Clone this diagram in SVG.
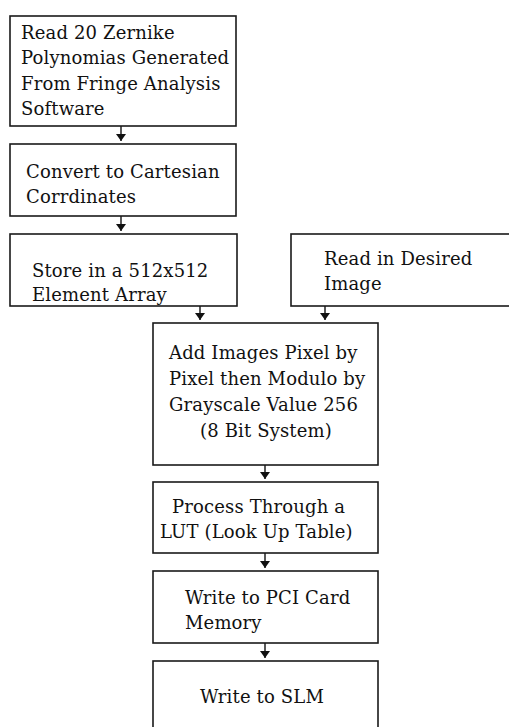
<svg xmlns="http://www.w3.org/2000/svg" width="509" height="727" viewBox="0 0 509 727">
  <style>
    .box { fill: #ffffff; stroke: #1a1a1a; stroke-width: 1.6; }
    .lbl { font-family: "DejaVu Serif", "Liberation Serif", serif; font-size: 18px; letter-spacing: 0.15px; fill: #111111; }
    .conn { stroke: #111111; stroke-width: 1.4; fill: none; marker-end: url(#ah); }
  </style>
  <defs>
    <marker id="ah" markerUnits="userSpaceOnUse" markerWidth="12" markerHeight="12" viewBox="0 -6 7 12" refX="7" refY="0" orient="auto">
      <path d="M0,-5 L7,0 L0,5 z" fill="#111111"/>
    </marker>
  </defs>
  <rect width="509" height="727" fill="#ffffff"/>

  <g id="connectors">
    <line class="conn" x1="121" y1="126" x2="121" y2="141"/>
    <line class="conn" x1="121" y1="216" x2="121" y2="231"/>
    <line class="conn" x1="200" y1="306" x2="200" y2="320"/>
    <line class="conn" x1="325" y1="306" x2="325" y2="320"/>
    <line class="conn" x1="265" y1="465" x2="265" y2="479"/>
    <line class="conn" x1="265" y1="553" x2="265" y2="568"/>
    <line class="conn" x1="265" y1="643" x2="265" y2="658"/>
  </g>

  <g id="node-read-zernike">
    <rect class="box" x="10" y="16" width="226" height="110"/>
    <text class="lbl" x="21" y="38.5">Read 20 Zernike</text>
    <text class="lbl" x="21" y="64">Polynomias Generated</text>
    <text class="lbl" x="21" y="89.5">From Fringe Analysis</text>
    <text class="lbl" x="21" y="115">Software</text>
  </g>

  <g id="node-convert">
    <rect class="box" x="10" y="144" width="226" height="72"/>
    <text class="lbl" x="26" y="178">Convert to Cartesian</text>
    <text class="lbl" x="26" y="203">Corrdinates</text>
  </g>

  <g id="node-store">
    <rect class="box" x="10" y="234" width="227" height="72"/>
    <text class="lbl" x="32" y="277">Store in a 512x512</text>
    <text class="lbl" x="32" y="301">Element Array</text>
  </g>

  <g id="node-read-image">
    <rect class="box" x="291" y="234" width="240" height="72"/>
    <text class="lbl" x="324" y="265">Read in Desired</text>
    <text class="lbl" x="324" y="290">Image</text>
  </g>

  <g id="node-add">
    <rect class="box" x="153" y="323" width="225" height="142"/>
    <text class="lbl" x="169" y="359">Add Images Pixel by</text>
    <text class="lbl" x="169" y="385">Pixel then Modulo by</text>
    <text class="lbl" x="169" y="411">Grayscale Value 256</text>
    <text class="lbl" x="200" y="437">(8 Bit System)</text>
  </g>

  <g id="node-lut">
    <rect class="box" x="153" y="482" width="225" height="71"/>
    <text class="lbl" x="172" y="513">Process Through a</text>
    <text class="lbl" x="160" y="538">LUT (Look Up Table)</text>
  </g>

  <g id="node-pci">
    <rect class="box" x="153" y="571" width="225" height="72"/>
    <text class="lbl" x="185" y="604">Write to PCI Card</text>
    <text class="lbl" x="185" y="629">Memory</text>
  </g>

  <g id="node-slm">
    <rect class="box" x="153" y="661" width="225" height="80"/>
    <text class="lbl" x="200" y="703">Write to SLM</text>
  </g>
</svg>
